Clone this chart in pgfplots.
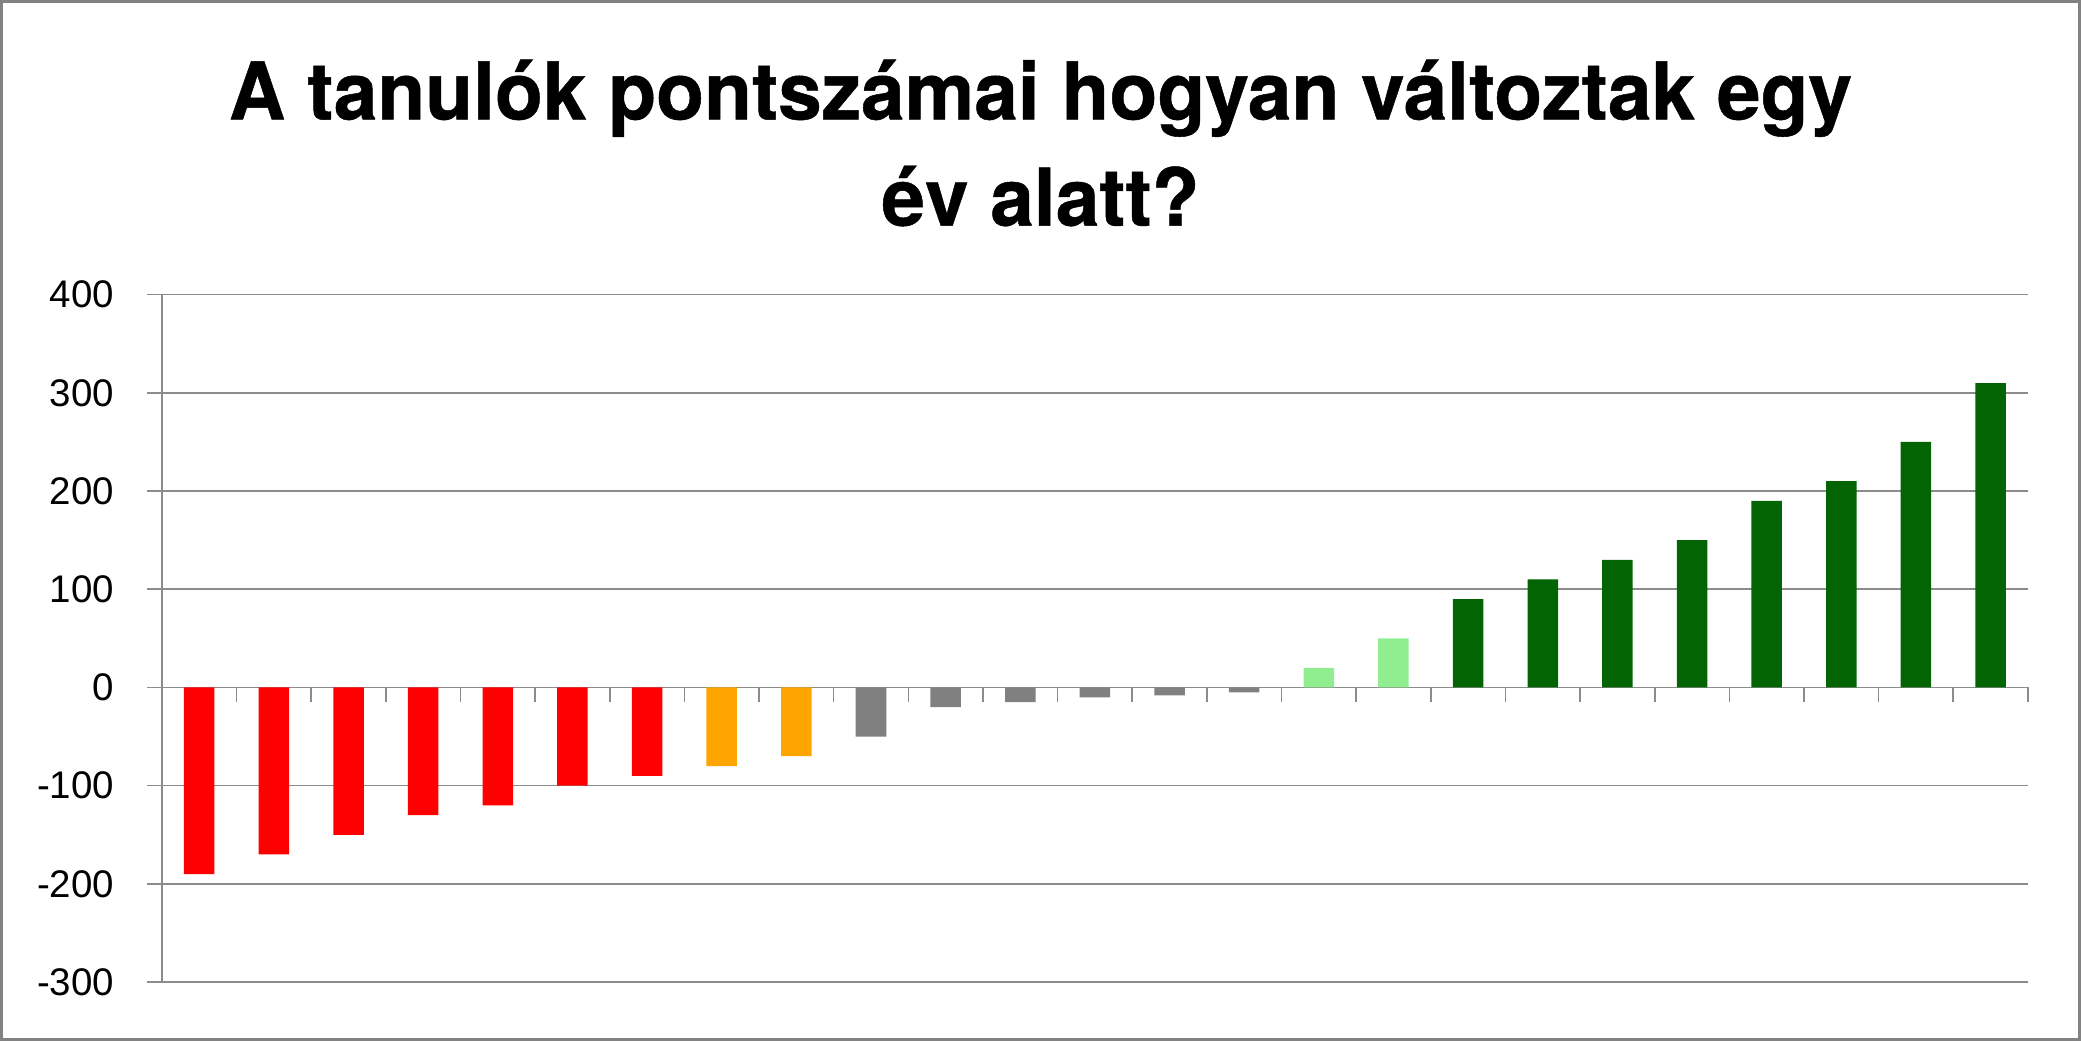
\documentclass[border=0pt]{standalone}
\usepackage{pgfplots}
\pgfplotsset{compat=1.18}
\usepackage{fontspec}
\setmainfont{Liberation Sans}
\newfontfamily\titlefont{TeX Gyre Heros}[FakeStretch=0.985, FakeBold=0.6]
\definecolor{gridc}{RGB}{140,140,140}
\definecolor{borderc}{RGB}{130,130,130}
\definecolor{cred}{RGB}{255,0,0}
\definecolor{corange}{RGB}{255,165,0}
\definecolor{cgray}{RGB}{128,128,128}
\definecolor{clgreen}{RGB}{144,238,144}
\definecolor{cdgreen}{RGB}{2,100,2}
\begin{document}
\begin{tikzpicture}
\begin{axis}[
  at={(0pt,0pt)}, anchor=south west,
  scale only axis, width=703pt, height=259pt,
  xmin=-0.5, xmax=24.5, ymin=-300, ymax=400,
  axis y line=left, axis x line=middle,
  axis line style={-, gridc, line width=0.6pt},
  ytick={-300,-200,...,400},
  xtick={0.5,1.5,...,24.5}, xticklabels={},
  tick align=outside, major tick length=5.5pt,
  tick style={gridc, line width=0.6pt},
  ymajorgrids, grid style={gridc, line width=0.6pt},
  yticklabel style={font=\fontsize{14.5}{17}\selectfont, xshift=-9pt},
  /pgf/number format/assume math mode=true,
  ybar, bar width=11.5pt, bar shift=0pt,
  clip=false,
]
\addplot[fill=cred, draw=none] coordinates {(0,-190)(1,-170)(2,-150)(3,-130)(4,-120)(5,-100)(6,-90)};
\addplot[fill=corange, draw=none] coordinates {(7,-80)(8,-70)};
\addplot[fill=cgray, draw=none] coordinates {(9,-50)(10,-20)(11,-15)(12,-10)(13,-8)(14,-5)};
\addplot[fill=clgreen, draw=none] coordinates {(15,20)(16,50)};
\addplot[fill=cdgreen, draw=none] coordinates {(17,90)(18,110)(19,130)(20,150)(21,190)(22,210)(23,250)(24,310)};
\end{axis}
\node[anchor=base, font=\titlefont\bfseries\fontsize{30}{36}\selectfont] at (331pt,325pt) {A tanulók pontszámai hogyan változtak egy};
\node[anchor=base, font=\titlefont\bfseries\fontsize{30}{36}\selectfont] at (331pt,285pt) {év alatt?};
\pgfresetboundingbox
\draw[borderc, line width=1pt] (-60.5pt,-21.5pt) rectangle (722.5pt,369.5pt);
\useasboundingbox (-61pt,-22pt) rectangle (723pt,370pt);
\end{tikzpicture}
\end{document}
